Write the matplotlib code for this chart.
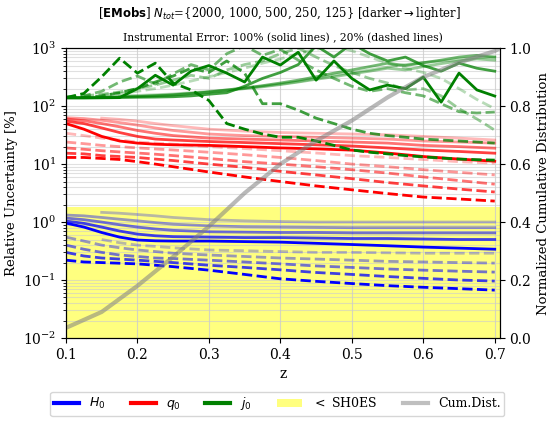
import numpy as np
import matplotlib
matplotlib.use("Agg")
import matplotlib.pyplot as plt
from matplotlib.lines import Line2D
from matplotlib.patches import Patch

plt.rcParams['font.family'] = ['DejaVu Serif']
plt.rcParams['mathtext.fontset'] = 'dejavusans'

nan = np.nan
# redshift grids
z_s = [0.1, 0.125, 0.15, 0.175, 0.2, 0.225, 0.25, 0.3, 0.35, 0.4, 0.45, 0.5, 0.55, 0.6, 0.65, 0.7]
z_g = [0.1, 0.125, 0.15, 0.175, 0.2, 0.225, 0.25, 0.275, 0.3, 0.325, 0.35, 0.375, 0.4,
       0.425, 0.45, 0.475, 0.5, 0.525, 0.55, 0.575, 0.6, 0.625, 0.65, 0.675, 0.7]
z_cdf = [0.1, 0.15, 0.2, 0.25, 0.3, 0.35, 0.4, 0.45, 0.5, 0.55, 0.6, 0.65, 0.7, 0.707]

N_tot = [2000, 1000, 500, 250, 125]

# H0 relative uncertainty [%]
H0_100 = [
    [0.96, 0.82, 0.66, 0.55, 0.49, 0.475, 0.47, 0.47, 0.46, 0.45, 0.43, 0.41, 0.39, 0.37, 0.355, 0.34],
    [1.04, 0.95, 0.82, 0.70, 0.62, 0.58, 0.56, 0.55, 0.54, 0.54, 0.53, 0.52, 0.52, 0.51, 0.50, 0.50],
    [1.17, 1.10, 1.00, 0.90, 0.82, 0.76, 0.72, 0.68, 0.67, 0.66, 0.66, 0.65, 0.65, 0.65, 0.65, 0.65],
    [1.32, 1.28, 1.20, 1.12, 1.05, 0.98, 0.92, 0.86, 0.83, 0.82, 0.81, 0.80, 0.80, 0.80, 0.80, 0.80],
    [nan, nan, 1.47, 1.42, 1.35, 1.28, 1.20, 1.10, 1.05, 1.02, 1.00, 1.00, 1.00, 1.00, 1.00, 1.00],
]
H0_20 = [
    [0.22, 0.205, 0.20, 0.195, 0.19, 0.18, 0.17, 0.148, 0.125, 0.105, 0.095, 0.087, 0.08, 0.075, 0.071, 0.067],
    [0.30, 0.26, 0.24, 0.23, 0.22, 0.21, 0.20, 0.18, 0.165, 0.15, 0.135, 0.125, 0.115, 0.107, 0.10, 0.096],
    [0.40, 0.34, 0.30, 0.27, 0.255, 0.24, 0.235, 0.22, 0.205, 0.19, 0.175, 0.165, 0.155, 0.148, 0.142, 0.137],
    [0.55, 0.47, 0.40, 0.36, 0.33, 0.31, 0.29, 0.27, 0.255, 0.24, 0.23, 0.22, 0.21, 0.205, 0.20, 0.196],
    [nan, nan, 0.50, 0.44, 0.40, 0.38, 0.36, 0.33, 0.32, 0.31, 0.30, 0.30, 0.295, 0.29, 0.29, 0.29],
]
# q0 relative uncertainty [%]
q0_100 = [
    [50, 40, 30, 25, 23, 22, 21.5, 21, 20, 19, 18.3, 17.4, 15.5, 13.5, 12.2, 11.2],
    [55, 50, 42, 35, 30, 27, 26, 24.5, 23.5, 22.5, 21.5, 20.5, 19, 17.5, 16.5, 15.4],
    [60, 56, 50, 44, 38, 34, 31, 28, 27, 26, 25, 24, 23, 21, 20, 18.8],
    [63, 61, 57, 52, 47, 42, 38, 33, 31, 30, 29, 28, 27, 25, 24, 23],
    [nan, nan, 62, 59, 55, 50, 46, 40, 37, 35, 34, 33, 32, 30, 28, 26],
]
q0_20 = [
    [13, 13, 12.5, 12, 11, 10, 9, 7.3, 6, 5, 4.2, 3.6, 3.1, 2.7, 2.5, 2.3],
    [15.4, 15, 14, 13.5, 13, 12.2, 11.5, 10, 8.8, 7.5, 6.5, 5.6, 4.8, 4.2, 3.7, 3.3],
    [19, 18, 17, 16.2, 15.5, 14.8, 14, 12.5, 11, 10, 9, 8, 7, 6, 5.2, 4.5],
    [24, 22.5, 21, 20, 19, 18.2, 17.5, 16, 14.5, 13, 11.5, 10, 9, 8, 7.2, 6.5],
    [34, 31, 28, 26, 24, 23, 22, 20, 18.5, 17, 15.5, 14, 13, 12, 11, 10.4],
]
# j0 relative uncertainty [%]
j0_100 = [
    [138, 138, 139, 140, 200, 340, 230, 400, 500, 370, 260, 700, 510, 850, 280, 600, 300, 190, 230, 200, 316, 117, 370, 190, 149],
    [140, 140, 140, 141, 142, 143, 145, 150, 160, 170, 220, 300, 380, 520, 1100, 700, 1200, 800, 600, 700, 500, 400, 550, 450, 400],
    [140, 140, 141, 143, 146, 150, 155, 165, 175, 190, 205, 225, 250, 280, 320, 370, 420, 480, 550, 500, 560, 620, 700, 750, 700],
    [nan, nan, 145, 146, 148, 152, 158, 165, 175, 185, 200, 215, 235, 260, 290, 320, 360, 400, 450, 420, 480, 540, 600, 650, 620],
    [nan, nan, nan, 150, 153, 157, 162, 170, 180, 190, 205, 220, 240, 265, 300, 340, 380, 420, 470, 520, 560, 600, 640, 680, 700],
]
j0_20 = [
    [140, 165, 320, 670, 370, 550, 250, 190, 125, 50, 40, 33, 29, 29, 25, 21, 17.5, 16, 15, 14, 13.3, 12.7, 12.2, 11.9, 11.7],
    [140, 142, 150, 170, 200, 260, 330, 450, 380, 600, 370, 110, 110, 85, 62, 50, 40, 34, 31, 29, 27, 26, 25, 24, 23],
    [145, 150, 180, 260, 330, 240, 360, 520, 420, 800, 1100, 750, 950, 620, 420, 300, 220, 180, 200, 170, 150, 110, 80, 76, 79],
    [nan, 150, 160, 175, 200, 230, 280, 340, 300, 420, 520, 600, 800, 1000, 700, 500, 380, 300, 250, 190, 200, 150, 90, 60, 38.5],
    [nan, nan, 155, 165, 180, 200, 230, 270, 320, 380, 450, 550, 650, 800, 950, 1100, 900, 700, 550, 450, 380, 300, 200, 130, 90],
]
# normalized cumulative distribution of the sample
cdf = [0.035, 0.09, 0.18, 0.28, 0.385, 0.50, 0.60, 0.68, 0.75, 0.83, 0.90, 0.95, 0.99, 1.0]

shoes_limit = 1.8

alphas = [1.0, 0.75, 0.55, 0.4, 0.28]

fig = plt.figure(figsize=(5.59, 4.22), dpi=100)
ax = fig.add_axes([0.118, 0.199, 0.776, 0.687])

ax.axhspan(1e-2, shoes_limit, color='yellow', alpha=0.5, lw=0, zorder=0)

for data, zz, col in [(H0_100, z_s, 'blue'), (q0_100, z_s, 'red'), (j0_100, z_g, 'green')]:
    for k, vals in enumerate(data):
        ax.plot(zz, vals, color=col, lw=2, ls='-', alpha=alphas[k], zorder=2)
for data, zz, col in [(H0_20, z_s, 'blue'), (q0_20, z_s, 'red'), (j0_20, z_g, 'green')]:
    for k, vals in enumerate(data):
        ax.plot(zz, vals, color=col, lw=2, ls='--', alpha=alphas[k], zorder=2)

ax.set_yscale('log')
ax.set_ylim(1e-2, 1e3)
ax.set_xlim(0.1, 0.707)
ax.set_xticks([0.1, 0.2, 0.3, 0.4, 0.5, 0.6, 0.7])
ax.grid(which='both', axis='y', color='#cccccc', alpha=0.6, lw=0.8, zorder=1)
ax.grid(which='major', axis='x', color='#cccccc', alpha=0.8, lw=0.8, zorder=1)
ax.set_axisbelow(True)
ax.set_xlabel('z', fontsize=10)
ax.set_ylabel('Relative Uncertainty [%]', fontsize=9.5)
ax.set_title('Instrumental Error: 100% (solid lines) , 20% (dashed lines)', fontsize=7.7, pad=5)
ax.tick_params(labelsize=10)

ax2 = ax.twinx()
ax2.plot(z_cdf, cdf, color='gray', lw=3, alpha=0.55)
ax2.set_ylim(0, 1)
ax2.set_yticks([0, 0.2, 0.4, 0.6, 0.8, 1.0])
ax2.set_ylabel('Normalized Cumulative Distribution', fontsize=9.5)
ax2.tick_params(labelsize=10)

fig.text(0.5, 0.967, r'[$\bf{EMobs}$] $N_{tot}$={2000, 1000, 500, 250, 125} [darker$\rightarrow$lighter]',
         fontsize=8.4, ha='center', va='center')

handles = [Line2D([], [], color='blue', lw=3),
           Line2D([], [], color='red', lw=3),
           Line2D([], [], color='green', lw=3),
           Patch(facecolor='yellow', alpha=0.5, edgecolor='none'),
           Line2D([], [], color='gray', lw=3, alpha=0.5)]
labels = [r'$H_0$', r'$q_0$', r'$j_0$', r'$<$ SH0ES', 'Cum.Dist.']
fig.legend(handles, labels, loc='center', bbox_to_anchor=(0.496, 0.043), ncol=5,
           fontsize=9, frameon=True, columnspacing=2.0, handlelength=2.0,
           borderpad=0.3)

fig.savefig('out.png', dpi=100)
